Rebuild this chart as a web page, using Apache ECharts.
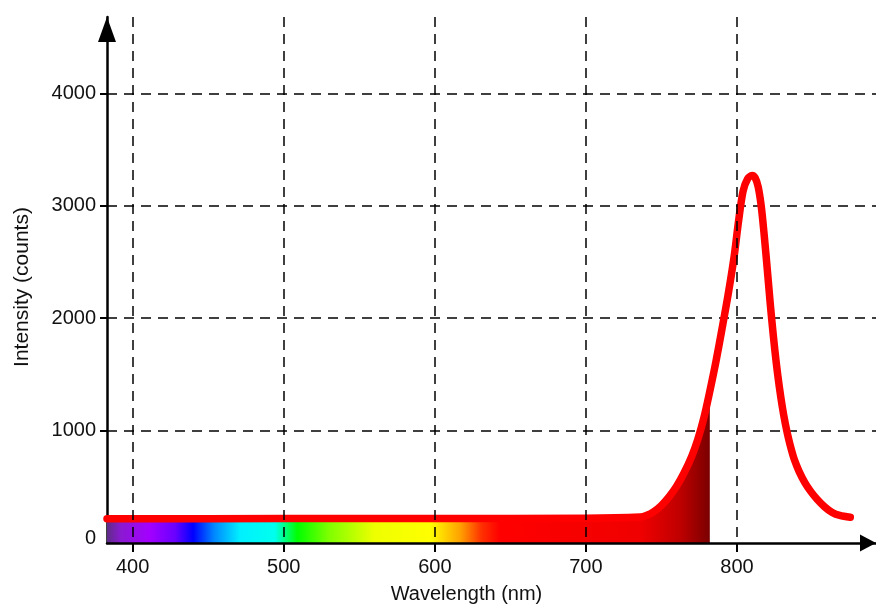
<!DOCTYPE html>
<html>
<head>
<meta charset="utf-8">
<script src="https://cdn.jsdelivr.net/npm/echarts@6/dist/echarts.min.js"></script>
<style>
html, body { margin: 0; padding: 0; background: #fff; }
#chart { width: 876px; height: 605px; }
</style>
</head>
<body>
<div id="chart"></div>
<script>
// emission spectrum
const wavelengths = [383, 500, 600, 700, 736, 740, 745, 750, 755, 760, 765, 770, 774, 778, 782, 786, 790, 794, 798, 801, 804, 807, 810, 812, 814, 816, 818, 820, 822, 824, 826, 828, 830, 832, 834, 836, 838, 841, 845, 849, 853, 858, 863, 868, 875];
const intensity   = [216, 217, 218, 220, 231, 245, 280, 335, 410, 505, 625, 770, 920, 1110, 1350, 1610, 1900, 2200, 2540, 2860, 3130, 3240, 3270, 3250, 3170, 3000, 2740, 2440, 2130, 1850, 1600, 1390, 1210, 1060, 935, 830, 740, 640, 535, 455, 390, 322, 272, 245, 229];

// the coloured fill stops here
const fillEndNm = 782;

const xTickValues = [400, 500, 600, 700, 800];
const yTickValues = [1000, 2000, 3000, 4000];
const yLabelValues = [0, 1000, 2000, 3000, 4000];

const FONT = "'Liberation Sans', Arial, Helvetica, sans-serif";

const curveData = wavelengths.map((w, i) => [w, intensity[i]]);
const fillData = curveData.filter((p) => p[0] <= fillEndNm);

// spectrum colours by wavelength
const spectrumStops = [
  [383, "#5e2d86"],
  [392, "#8a1ad0"],
  [411, "#a300ff"],
  [428, "#6a00ff"],
  [440, "#0000ff"],
  [454, "#0088ff"],
  [471, "#00f0ff"],
  [494, "#00ffee"],
  [509, "#00ff00"],
  [530, "#7fff00"],
  [560, "#eeff00"],
  [597, "#ffff00"],
  [617, "#ffa000"],
  [631, "#ff3000"],
  [643, "#ff0000"],
  [736, "#f00000"],
  [762, "#c00000"],
  [782, "#7a0000"]
];
const fillStart = fillData[0][0];
const fillGradient = new echarts.graphic.LinearGradient(0, 0, 1, 0,
  spectrumStops.map(([nm, color]) => ({
    offset: (nm - fillStart) / (fillEndNm - fillStart),
    color
  }))
);

const dashed = { type: [10, 7], color: "#000", width: 1.5 };
const plain = (v) => String(v);

const chart = echarts.init(document.getElementById("chart"), null, { renderer: "canvas" });

chart.setOption({
  animation: false,
  backgroundColor: "#fff",
  grid: { left: 107, right: 0, top: 17, bottom: 62, outerBoundsMode: "none" },
  xAxis: {
    type: "value",
    min: 383,
    max: 892,
    z: 3,
    name: "Wavelength (nm)",
    nameLocation: "middle",
    nameGap: 41,
    nameTextStyle: { fontSize: 20, color: "#111", fontFamily: FONT, padding: [0, 50, 0, 0] },
    axisLine: {
      show: true,
      lineStyle: { color: "#000", width: 2.5 },
      symbol: ["none", "triangle"],
      symbolSize: [17, 16],
      symbolOffset: [0, -8]
    },
    axisTick: { show: true, customValues: xTickValues, length: 9, lineStyle: { color: "#000", width: 2 } },
    axisLabel: { customValues: xTickValues, formatter: plain, fontSize: 20, color: "#111", fontFamily: FONT, margin: 14 },
    splitLine: { show: true, lineStyle: dashed }
  },
  yAxis: {
    type: "value",
    min: 0,
    max: 4680,
    z: 1,
    name: "Intensity (counts)",
    nameLocation: "middle",
    nameGap: 74,
    nameTextStyle: { fontSize: 21, color: "#111", fontFamily: FONT, padding: [0, 14, 0, 0] },
    axisLine: {
      show: true,
      lineStyle: { color: "#000", width: 2.5 },
      symbol: ["none", "triangle"],
      symbolSize: [18, 25],
      symbolOffset: [0, -12.5]
    },
    axisTick: { show: true, customValues: yTickValues, length: 7, lineStyle: { color: "#000", width: 2 } },
    axisLabel: {
      customValues: yLabelValues,
      // the zero label sits a little higher than the axis line
      formatter: (v) => (v === 0 ? "{zero|0}" : String(v)),
      rich: { zero: { fontSize: 20, color: "#111", fontFamily: FONT, padding: [0, 0, 10, 0] } },
      fontSize: 20,
      color: "#111",
      fontFamily: FONT,
      margin: 11
    },
    splitLine: { show: true, lineStyle: dashed }
  },
  series: [
    {
      name: "Spectrum",
      type: "line",
      data: fillData,
      smooth: 0.3,
      showSymbol: false,
      silent: true,
      z: 2,
      lineStyle: { width: 0 },
      areaStyle: { color: fillGradient, opacity: 1 }
    },
    {
      name: "Intensity",
      type: "line",
      data: curveData,
      smooth: 0.3,
      showSymbol: false,
      z: 2,
      lineStyle: { color: "#ff0000", width: 7.5, cap: "round", join: "round" }
    }
  ]
});
</script>
</body>
</html>
